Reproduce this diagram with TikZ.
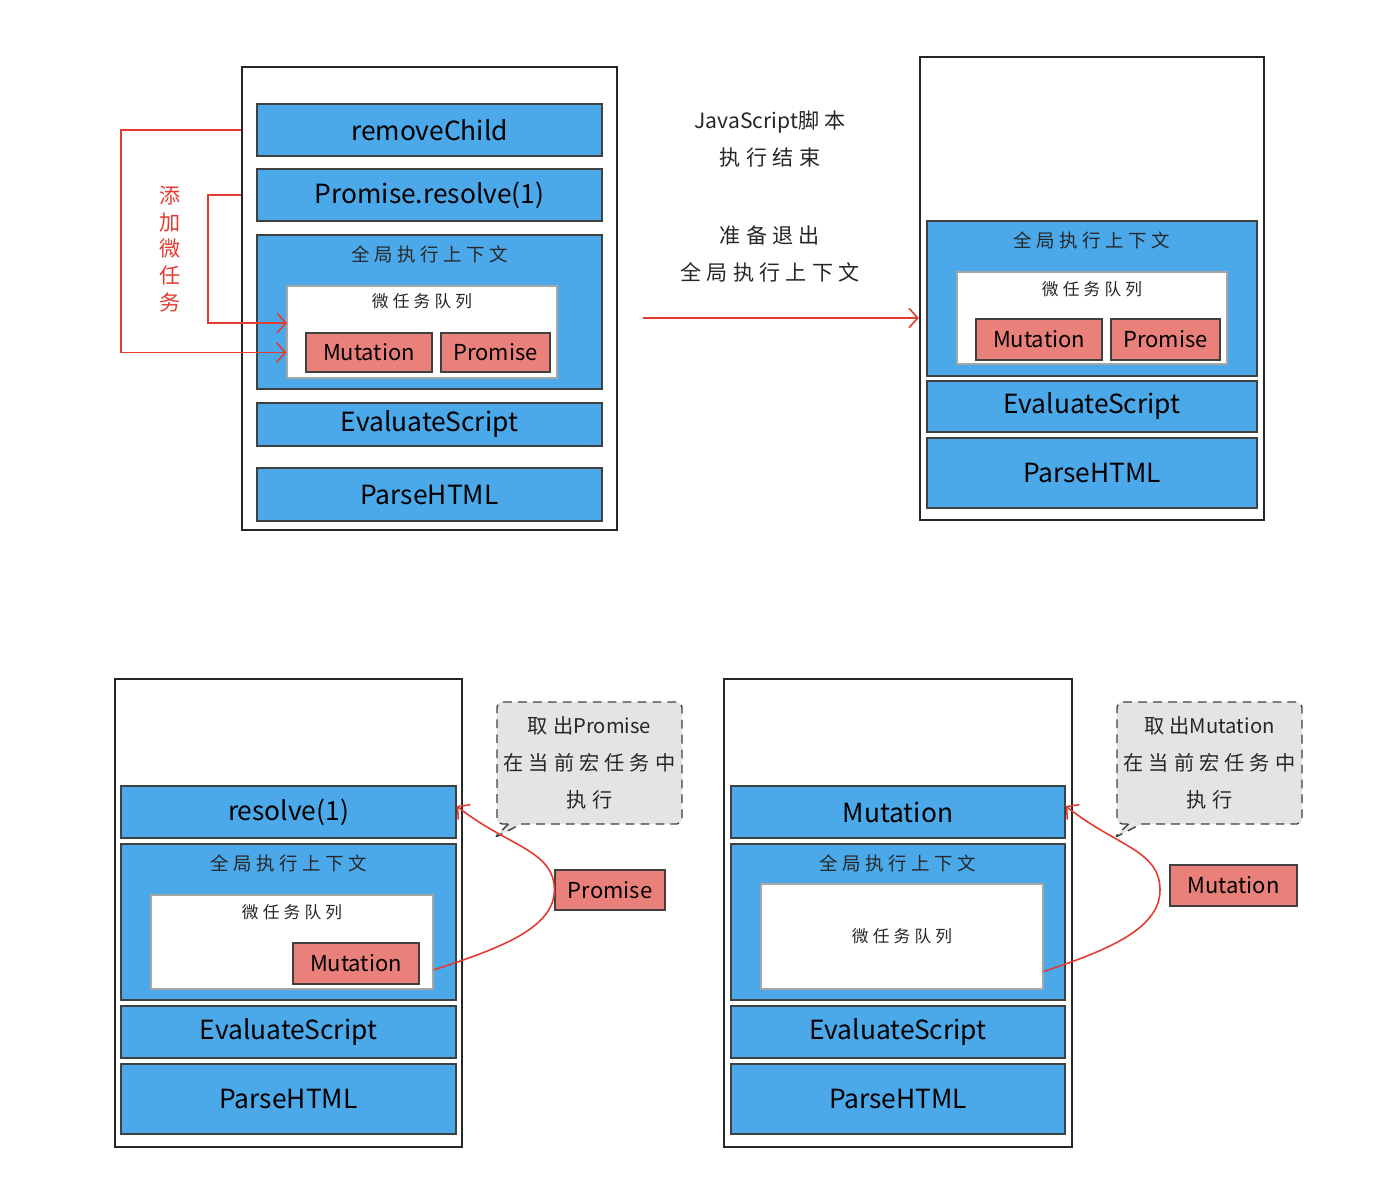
\documentclass[tikz,border=0pt]{standalone}
\usepackage{fontspec}
\setmainfont{Noto Sans CJK SC}
\newfontfamily\cjkwide[LetterSpace=25]{Noto Sans CJK SC}
\usetikzlibrary{positioning, arrows.meta, shapes.callouts}
\definecolor{jsblue}{HTML}{4BA9EA}
\definecolor{taskred}{HTML}{E9817A}
\definecolor{arrowred}{HTML}{E53A30}
\definecolor{notegray}{HTML}{E4E4E4}

\begin{document}
\begin{tikzpicture}[
		x=0.02cm, y=-0.02cm,
		% Define styles
		span/.style 2 args={minimum width=#1*0.02cm, minimum height=#2*0.02cm},
		base/.style={rectangle, inner sep=0pt},
		frame/.style={base, draw=black!85, line width=1.3pt},
		block/.style={base, draw=black!75, fill=jsblue, line width=0.8pt, font=\fontsize{15}{17}\selectfont},
		queue/.style={base, draw=black!35, fill=white, line width=0.6pt},
		task/.style={base, draw=black!75, fill=taskred, line width=0.7pt, font=\fontsize{12.5}{14}\selectfont},
		ctxtitle/.style={font=\cjkwide\fontsize{10.5}{12}\selectfont, text=black!85},
		qtitle/.style={font=\cjkwide\fontsize{9.5}{11}\selectfont, text=black!85},
		remark/.style={align=center, font=\fontsize{12}{21.5}\selectfont, text=black!85},
		note/.style={rectangle callout, draw=black!75, fill=notegray, dash pattern=on 5pt off 3.5pt, line width=0.8pt, rounded corners=3pt, inner sep=0pt, align=center, font=\fontsize{11.5}{21}\selectfont, text=black!85},
		link/.style={-{Straight Barb[length=5pt, width=11pt]}, draw=arrowred, line width=0.9pt}
		]
		\useasboundingbox (0,0) rectangle (1388,1188);
		
		% 1. Call stack while the script runs
		\node[frame, span={375}{463}] at (429.5,298.5) (f1) {};
		\node[block, span={345}{52}] at (429.5,130) (rc) {removeChild};
		\node[block, span={345}{52}] at (429.5,195) (pr) {Promise.resolve(1)};
		\node[block, span={345}{154}] at (429.5,312) (ctx1) {};
		\node[ctxtitle] at ([yshift=-0.4cm]ctx1.north) (ctx1t) {全局执行上下文};
		\node[queue, span={270}{92}] at (422,332) (q1) {};
		\node[qtitle] at ([yshift=-0.32cm]q1.north) (q1t) {微任务队列};
		\node[task, span={126}{39}] at (369,352.5) (mut1) {Mutation};
		\node[task, span={109}{39}] at (495.5,352.5) (prm1) {Promise};
		\node[block, span={345}{43}] at (429.5,424.5) (ev1) {EvaluateScript};
		\node[block, span={345}{53}] at (429.5,494.5) (ph1) {ParseHTML};
		
		% Adding the micro tasks
		\node[align=center, text=arrowred, font=\cjkwide\fontsize{12}{15.3}\selectfont] at (170,249) (add) {添\\加\\微\\任\\务};
		\coordinate (in2) at (287,323);
		\draw[link] (f1.west |- rc.west) -- ++(-120,0) |- (q1.west |- mut1.west);
		\draw[link] (f1.west |- pr.west) -- ++(-33,0) |- (in2);
		
		% 2. Script finished
		\node[remark] at (770,139) (done) {JavaScript{\cjkwide 脚本}\\{\cjkwide 执行结束}};
		\node[remark] at (770,254) (leave) {{\cjkwide 准备退出}\\{\cjkwide 全局执行上下文}};
		\coordinate (exit) at (643,318);
		
		\node[frame, span={344}{463}] at (1092,288.5) (f2) {};
		\node[block, span={330}{155}] at (1092,298.5) (ctx2) {};
		\node[ctxtitle] at ([yshift=-0.4cm]ctx2.north) (ctx2t) {全局执行上下文};
		\node[queue, span={270}{92}] at (1092,318) (q2) {};
		\node[qtitle] at ([yshift=-0.36cm]q2.north) (q2t) {微任务队列};
		\node[task, span={126}{41}] at (1039,339.5) (mut2) {Mutation};
		\node[task, span={109}{41}] at (1165.5,339.5) (prm2) {Promise};
		\node[block, span={330}{51}] at (1092,406.5) (ev2) {EvaluateScript};
		\node[block, span={330}{70}] at (1092,473) (ph2) {ParseHTML};
		
		\draw[link] (exit) -- (exit -| f2.west);
		
		% 3. Run Promise
		\node[frame, span={347}{468}] at (288.5,913) (f3) {};
		\node[block, span={335}{52}] at (288.5,812) (rs) {resolve(1)};
		\node[block, span={335}{156}] at (288.5,922) (ctx3) {};
		\node[ctxtitle] at ([yshift=-0.4cm]ctx3.north) (ctx3t) {全局执行上下文};
		\node[queue, span={282}{94}] at (292,942) (q3) {};
		\node[qtitle] at ([yshift=-0.36cm]q3.north) (q3t) {微任务队列};
		\node[task, span={126}{41}] at (356,963.5) (mut3) {Mutation};
		\node[block, span={335}{52}] at (288.5,1032) (ev3) {EvaluateScript};
		\node[block, span={335}{70}] at (288.5,1099) (ph3) {ParseHTML};
		
		\node[note, span={185}{122}, callout absolute pointer={(494,838)}] at (589.5,763) (note3) {{\cjkwide 取出}Promise\\{\cjkwide 在当前宏任务中}\\{\cjkwide 执行}};
		\node[task, span={110}{40}] at (610,890) (prm3) {Promise};
		
		\draw[link] ([yshift=-0.56cm]q3.east) .. controls +(60,-20) and +(0,40) .. (prm3.west) .. controls +(0,-40) and +(50,40) .. ([yshift=0.12cm]rs.east);
		
		% 4. Run Mutation
		\node[frame, span={348}{468}] at (898,913) (f4) {};
		\node[block, span={334}{52}] at (898,812) (mt) {Mutation};
		\node[block, span={334}{156}] at (898,922) (ctx4) {};
		\node[ctxtitle] at ([yshift=-0.4cm]ctx4.north) (ctx4t) {全局执行上下文};
		\node[queue, qtitle, span={282}{105}] at (902,936.5) (q4) {微任务队列};
		\node[block, span={334}{52}] at (898,1032) (ev4) {EvaluateScript};
		\node[block, span={334}{70}] at (898,1099) (ph4) {ParseHTML};
		
		\node[note, span={185}{122}, callout absolute pointer={(1114,838)}] at (1209.5,763) (note4) {{\cjkwide 取出}Mutation\\{\cjkwide 在当前宏任务中}\\{\cjkwide 执行}};
		\node[task, span={127}{41}] at (1233.5,885.5) (mut4) {Mutation};
		\coordinate (turn4) at (1160,890);
		
		\draw[link] ([yshift=-0.7cm]q4.east) .. controls +(60,-20) and +(0,40) .. (turn4) .. controls +(0,-40) and +(50,40) .. ([yshift=0.12cm]mt.east);
		
	\end{tikzpicture}
\end{document}
